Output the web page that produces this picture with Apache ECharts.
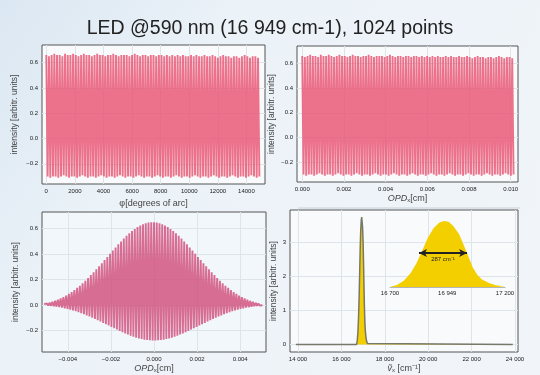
<!DOCTYPE html>
<html>
<head>
<meta charset="utf-8">
<script src="https://cdn.jsdelivr.net/npm/echarts@6/dist/echarts.min.js"></script>
<style>
html, body { margin: 0; padding: 0; }
#chart { width: 540px; height: 375px; }
</style>
</head>
<body>
<div id="chart"></div>
<script>
const titleText = 'LED @590 nm (16 949 cm-1), 1024 points';

// interferogram (top panels): crest / trough of each visible stripe
const stripeTops = [
    0.66, 0.65, 0.66, 0.67, 0.66, 0.66, 0.65, 0.67, 0.66, 0.66,
    0.67, 0.66, 0.65, 0.66, 0.67, 0.66, 0.66, 0.65, 0.66, 0.67,
    0.66, 0.66, 0.65, 0.66, 0.66, 0.67, 0.66, 0.65, 0.66, 0.66,
    0.66, 0.65, 0.66, 0.67, 0.66, 0.65, 0.66, 0.66, 0.65, 0.66,
    0.66, 0.65, 0.66, 0.66, 0.65, 0.66, 0.65, 0.66, 0.65, 0.66,
    0.65, 0.66, 0.65, 0.65, 0.66, 0.65, 0.66, 0.65, 0.65, 0.66,
    0.65, 0.65, 0.66, 0.65, 0.64, 0.65, 0.66, 0.65, 0.65, 0.64,
    0.65, 0.65, 0.64, 0.65, 0.66, 0.65, 0.64, 0.65, 0.65, 0.64
];
const stripeBottoms = [
    -0.30, -0.31, -0.30, -0.30, -0.31, -0.30, -0.29, -0.30, -0.31, -0.30,
    -0.30, -0.31, -0.30, -0.29, -0.30, -0.31, -0.30, -0.30, -0.31, -0.30,
    -0.29, -0.30, -0.31, -0.30, -0.30, -0.31, -0.30, -0.29, -0.30, -0.31,
    -0.30, -0.30, -0.31, -0.30, -0.29, -0.30, -0.31, -0.30, -0.30, -0.31,
    -0.30, -0.29, -0.30, -0.31, -0.30, -0.30, -0.31, -0.30, -0.29, -0.30,
    -0.31, -0.30, -0.30, -0.31, -0.30, -0.29, -0.30, -0.31, -0.30, -0.30,
    -0.31, -0.30, -0.29, -0.30, -0.31, -0.30, -0.30, -0.31, -0.30, -0.29,
    -0.30, -0.31, -0.30, -0.30, -0.31, -0.30, -0.29, -0.30, -0.31, -0.30
];
const phiSpan = 15000;      // degrees of arc covered by the scan
const opdSpan = 0.0102;     // cm

// symmetric interferogram (bottom left)
const envTops = [
    0.006, 0.011, 0.017, 0.024, 0.032, 0.041, 0.051, 0.062, 0.074, 0.087,
    0.101, 0.117, 0.134, 0.151, 0.170, 0.190, 0.211, 0.234, 0.257, 0.280,
    0.304, 0.328, 0.352, 0.377, 0.402, 0.427, 0.451, 0.476, 0.499, 0.521,
    0.543, 0.563, 0.581, 0.597, 0.612, 0.624, 0.634, 0.642, 0.647, 0.650,
    0.650, 0.647, 0.642, 0.634, 0.624, 0.612, 0.597, 0.581, 0.563, 0.543,
    0.521, 0.499, 0.476, 0.451, 0.427, 0.402, 0.377, 0.352, 0.328, 0.304,
    0.280, 0.257, 0.234, 0.211, 0.190, 0.170, 0.151, 0.134, 0.117, 0.101,
    0.087, 0.074, 0.062, 0.051, 0.041, 0.032, 0.024, 0.017, 0.011, 0.006
];
const envBottoms = [
    -0.003, -0.005, -0.007, -0.010, -0.014, -0.018, -0.022, -0.027, -0.032, -0.037,
    -0.043, -0.050, -0.058, -0.065, -0.073, -0.082, -0.091, -0.101, -0.111, -0.120,
    -0.131, -0.141, -0.151, -0.162, -0.173, -0.184, -0.194, -0.205, -0.215, -0.224,
    -0.233, -0.242, -0.250, -0.257, -0.263, -0.268, -0.273, -0.276, -0.278, -0.280,
    -0.280, -0.278, -0.276, -0.273, -0.268, -0.263, -0.257, -0.250, -0.242, -0.233,
    -0.224, -0.215, -0.205, -0.194, -0.184, -0.173, -0.162, -0.151, -0.141, -0.131,
    -0.120, -0.111, -0.101, -0.091, -0.082, -0.073, -0.065, -0.058, -0.050, -0.043,
    -0.037, -0.032, -0.027, -0.022, -0.018, -0.014, -0.010, -0.007, -0.005, -0.003
];
const opdSymStart = -0.0051;

// spectrum (bottom right)
const peakWave = [16700, 16730, 16760, 16790, 16815, 16840, 16865, 16890, 16915, 16935,
    16955, 16975, 17000, 17020, 17040, 17060, 17080, 17100, 17130, 17160, 17200];
const peakIntensity = [0.0, 0.12, 0.35, 0.8, 1.35, 2.05, 2.8, 3.35, 3.65, 3.74,
    3.7, 3.45, 3.0, 2.4, 1.75, 1.1, 0.68, 0.42, 0.22, 0.1, 0.03];
const spectrumStart = 13900;
const spectrumEnd = 23900;
const fwhmSpan = [16826, 17035];
const fwhmLevel = 1.93;
const fwhmText = '287 cm⁻¹';

// tick labels
const phiTicks = [0, 2000, 4000, 6000, 8000, 10000, 12000, 14000];
const opdTicks = [0, 0.002, 0.004, 0.006, 0.008, 0.010];
const opdSymTicks = [-0.004, -0.002, 0, 0.002, 0.004];
const intensityTicks = [-0.2, 0, 0.2, 0.4, 0.6];
const waveTicks = [14000, 16000, 18000, 20000, 22000, 24000];
const spectrumTicks = [0, 1, 2, 3];
const insetTicks = [16700, 16949, 17200];

const font = "'Liberation Sans', Arial, sans-serif";

function signed(v, d) {
    return (v < -1e-12 ? '\u2212' : '') + Math.abs(v).toFixed(d);
}
function spaced(v) {
    return Math.floor(v / 1000) + ' ' + String(v % 1000).padStart(3, '0');
}

function trace(tops, bottoms, x0, span) {
    const n = tops.length;
    const pts = [];
    for (let i = 0; i < n; i++) {
        pts.push([x0 + span * i / n, tops[i]]);
        pts.push([x0 + span * (i + 0.5) / n, bottoms[i]]);
    }
    return pts;
}

function axis(gridIndex, min, max, ticks, fmt, extra) {
    return Object.assign({
        type: 'value',
        gridIndex: gridIndex,
        min: min,
        max: max,
        axisLine: { show: false },
        axisTick: { show: false, customValues: ticks },
        axisLabel: {
            customValues: ticks,
            formatter: fmt,
            fontSize: 6,
            color: '#222',
            margin: 4,
            fontFamily: font
        },
        splitLine: { show: true, lineStyle: { color: '#dde4eb', width: 1 } },
        nameLocation: 'middle',
        nameTextStyle: {
            fontSize: 9,
            color: '#444',
            fontFamily: font,
            rich: {
                i: { fontSize: 9, fontStyle: 'italic', color: '#444', fontFamily: font },
                s: { fontSize: 6, color: '#444', verticalAlign: 'bottom', fontFamily: font }
            }
        }
    }, extra || {});
}

const yName = 'intensity [arbitr. units]';
const yNameStyle = { fontSize: 8.5, color: '#444', fontFamily: font };

const chart = echarts.init(document.getElementById('chart'));
chart.setOption({
    animation: false,
    backgroundColor: new echarts.graphic.LinearGradient(0, 0, 1, 1, [
        { offset: 0, color: '#dbe7f2' },
        { offset: 0.3, color: '#ebf2f8' },
        { offset: 1, color: '#f1f5f9' }
    ]),
    title: {
        text: titleText,
        left: 'center',
        top: 19,
        padding: 0,
        textStyle: { fontSize: 19.5, fontWeight: 'normal', color: '#222', fontFamily: font }
    },
    graphic: [{
        type: 'line',
        shape: { x1: 298, y1: 208, x2: 520, y2: 208 },
        style: { stroke: '#c8d0d8', lineWidth: 1 }
    }],
    grid: [
        { left: 42, top: 45, width: 223, height: 139 },
        { left: 297, top: 46, width: 221, height: 136 },
        { left: 42, top: 212, width: 224, height: 140 },
        { left: 290, top: 210, width: 228, height: 142 },
        { left: 390, top: 221, width: 115, height: 66, show: false }
    ].map((g, i) => Object.assign({
        show: true,
        backgroundColor: i === 2 ? '#f2f7fb' : '#f8fafc',
        borderColor: '#555',
        borderWidth: 1
    }, g)),
    xAxis: [
        axis(0, -300, 15300, phiTicks, v => String(v), { name: 'φ[degrees of arc]', nameGap: 15 }),
        axis(1, -0.00025, 0.01035, opdTicks, v => v.toFixed(3), { name: '{i|OPD}{s|x}[cm]', nameGap: 12 }),
        axis(2, -0.0052, 0.0052, opdSymTicks, v => signed(v, 3), { name: '{i|OPD}{s|x}[cm]', nameGap: 12 }),
        axis(3, 13630, 24140, waveTicks, spaced, { name: '{i|ṽ}{s|x} [cm⁻¹]', nameGap: 12 }),
        axis(4, 16700, 17200, insetTicks, spaced, {
            axisLine: { show: true, lineStyle: { color: '#b5b5b5', width: 1 } },
            splitLine: { show: false },
            axisLabel: { customValues: insetTicks, formatter: spaced, fontSize: 6, color: '#222', margin: 3, fontFamily: font }
        })
    ],
    yAxis: [
        axis(0, -0.36, 0.74, intensityTicks, v => signed(v, 1), { name: yName, nameGap: 23, nameTextStyle: yNameStyle }),
        axis(1, -0.36, 0.74, intensityTicks, v => signed(v, 1), { name: yName, nameGap: 21, nameTextStyle: yNameStyle }),
        axis(2, -0.37, 0.73, intensityTicks, v => signed(v, 1), { name: yName, nameGap: 22, nameTextStyle: yNameStyle }),
        axis(3, -0.22, 3.95, spectrumTicks, v => String(v), { name: yName, nameGap: 12, nameTextStyle: yNameStyle }),
        axis(4, 0, 3.74, [], v => '', { show: false })
    ],
    series: [
        {
            type: 'line', xAxisIndex: 0, yAxisIndex: 0,
            showSymbol: false,
            lineStyle: { color: '#e8506f', width: 1.9, opacity: 0.8 },
            data: trace(stripeTops, stripeBottoms, 0, phiSpan)
        },
        {
            type: 'line', xAxisIndex: 1, yAxisIndex: 1,
            showSymbol: false,
            lineStyle: { color: '#e8506f', width: 1.9, opacity: 0.8 },
            data: trace(stripeTops, stripeBottoms, 0, opdSpan)
        },
        {
            type: 'line', xAxisIndex: 2, yAxisIndex: 2,
            showSymbol: false,
            lineStyle: { color: '#cf4a78', width: 1.9, opacity: 0.8 },
            data: trace(envTops, envBottoms, opdSymStart, opdSpan)
        },
        {
            type: 'line', xAxisIndex: 3, yAxisIndex: 3,
            showSymbol: false,
            lineStyle: { color: '#77776a', width: 1.5 },
            areaStyle: { color: '#f3cf00', opacity: 1 },
            data: [[spectrumStart, 0]]
                .concat(peakWave.map((w, i) => [w, peakIntensity[i]]))
                .concat([[spectrumEnd, 0]])
        },
        {
            type: 'line', xAxisIndex: 4, yAxisIndex: 4,
            showSymbol: false,
            lineStyle: { width: 0 },
            areaStyle: { color: '#f3cf00', opacity: 1 },
            data: peakWave.map((w, i) => [w, peakIntensity[i]]),
            markLine: {
                silent: true,
                symbol: ['arrow', 'arrow'],
                symbolSize: [6, 8],
                lineStyle: { color: '#222', width: 2, type: 'solid' },
                label: {
                    show: true,
                    position: 'insideMiddleBottom',
                    formatter: fwhmText,
                    fontSize: 6,
                    color: '#222',
                    distance: 3,
                    fontFamily: font
                },
                data: [[{ coord: [fwhmSpan[0], fwhmLevel] }, { coord: [fwhmSpan[1], fwhmLevel] }]]
            }
        }
    ]
});
</script>
</body>
</html>
